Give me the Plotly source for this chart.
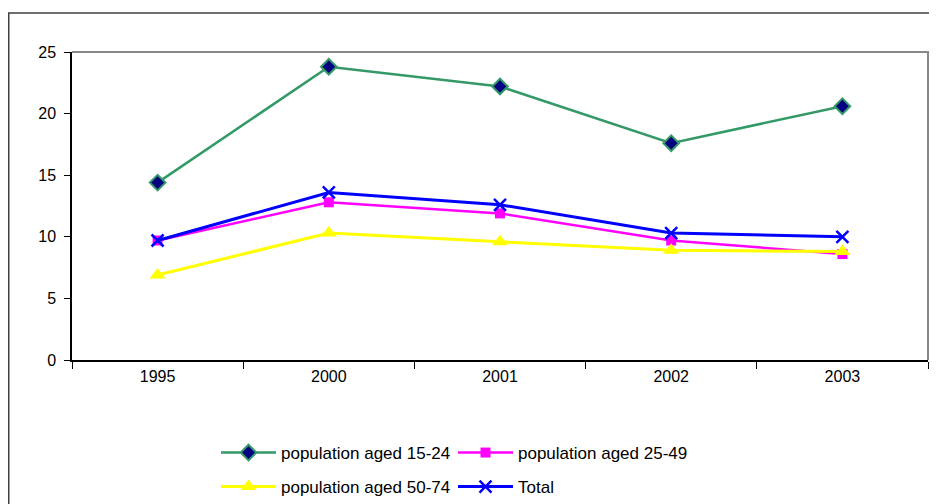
import plotly.graph_objects as go

years = ["1995", "2000", "2001", "2002", "2003"]
aged_15_24 = [14.4, 23.8, 22.2, 17.6, 20.6]
aged_25_49 = [9.7, 12.8, 11.9, 9.7, 8.6]
aged_50_74 = [6.9, 10.3, 9.6, 8.9, 8.8]
total = [9.7, 13.6, 12.6, 10.3, 10.0]

names = ["population aged 15-24", "population aged 25-49", "population aged 50-74", "Total"]

# the page body adds an 8px offset; figure coordinates = screen - 8
OFF = 8
W, H = 937 - OFF, 504 - OFF
ML, MT = 72 - OFF, 52 - OFF
PR, PB = 928 - OFF, 360 - OFF
MR, MB = W - PR, H - PB
PW, PH = W - ML - MR, H - MT - MB

font_family = "Liberation Sans, Arial, sans-serif"

fig = go.Figure()
fig.add_trace(go.Scatter(
    x=years, y=aged_15_24, name=names[0], mode="lines+markers",
    line=dict(color="#339966", width=2.5),
    marker=dict(symbol="diamond", size=12, color="#000080", line=dict(color="#339966", width=2)),
    legend="legend",
))
fig.add_trace(go.Scatter(
    x=years, y=aged_25_49, name=names[1], mode="lines+markers",
    line=dict(color="#FF00FF", width=2.5),
    marker=dict(symbol="square", size=10, color="#FF00FF"),
    legend="legend",
))
fig.add_trace(go.Scatter(
    x=years, y=aged_50_74, name=names[2], mode="lines+markers",
    line=dict(color="#FFFF00", width=3),
    marker=dict(symbol="triangle-up", size=14, color="#FFFF00"),
    legend="legend2",
))
fig.add_trace(go.Scatter(
    x=years, y=total, name=names[3], mode="lines+markers",
    line=dict(color="#0000FF", width=3),
    marker=dict(symbol="x-thin-open", size=12, color="#0000FF", line=dict(color="#0000FF", width=2.5)),
    legend="legend2",
))

# outer chart border (left + top visible)
ox = (8 - OFF + 0.75 - ML) / PW
oy = (PB - (13 - OFF)) / PH
fig.add_shape(type="path", xref="paper", yref="paper",
              path=f"M {ox},-2 L {ox},{oy} L 2,{oy}",
              line=dict(color="#404040", width=1.5), layer="below")
# plot area top/right border
fig.add_shape(type="path", xref="paper", yref="paper",
              path="M 0,1 L 1,1 L 1,0",
              line=dict(color="#888888", width=2), layer="above")

legend_common = dict(
    orientation="h", xref="container", yref="container",
    xanchor="left", yanchor="middle",
    font=dict(family=font_family, size=17, color="#000000"),
    bgcolor="rgba(0,0,0,0)", entrywidth=167, entrywidthmode="pixels",
    itemwidth=55, tracegroupgap=0,
)

fig.update_layout(
    width=W, height=H,
    margin=dict(l=ML, r=MR, t=MT, b=MB),
    paper_bgcolor="white", plot_bgcolor="white",
    font=dict(family=font_family, size=16, color="#000000"),
    showlegend=True,
    legend=dict(x=(222 - OFF - 6) / W, y=1 - (453 - OFF) / H, **legend_common),
    legend2=dict(x=(222 - OFF - 6) / W, y=1 - (487 - OFF) / H, **legend_common),
    xaxis=dict(
        type="category", range=[-0.5, len(years) - 0.5],
        showgrid=False, zeroline=False,
        showline=True, linecolor="#000000", linewidth=1.5,
        ticks="outside", ticklen=7, tickcolor="#000000", tickwidth=1,
        tickson="boundaries", ticklabelstandoff=1,
        tickfont=dict(family=font_family, size=16),
    ),
    yaxis=dict(
        range=[0, 25], dtick=5, showgrid=False, zeroline=False,
        showline=True, linecolor="#000000", linewidth=1.5,
        ticks="outside", ticklen=6, tickcolor="#000000", tickwidth=1,
        ticklabelstandoff=5,
        tickfont=dict(family=font_family, size=16),
    ),
)

fig.write_html("out.html")
